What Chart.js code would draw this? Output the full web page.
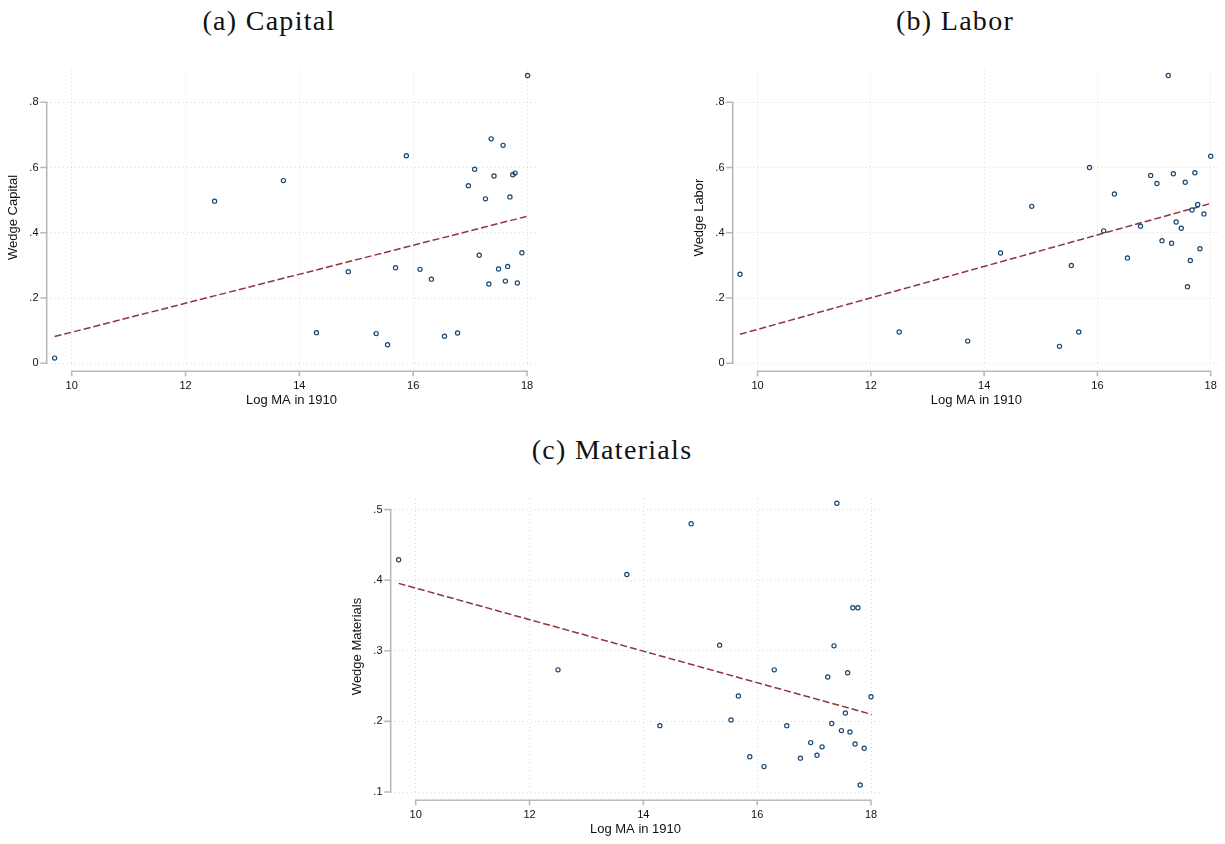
<!DOCTYPE html>
<html>
<head>
<meta charset="utf-8">
<script src="https://cdn.jsdelivr.net/npm/chart.js@4.4.1/dist/chart.umd.min.js"></script>
<style>
  html, body { margin: 0; padding: 0; background: #fff; overflow: hidden; }
  body { width: 1225px; height: 844px; position: relative; }
  canvas { position: absolute; }
  .ttl { position: absolute; width: 400px; text-align: center; font-family: "Liberation Serif", serif;
         font-size: 28px; line-height: 28px; letter-spacing: 1.3px; color: #111; white-space: nowrap; }
</style>
</head>
<body>
<div class="ttl" style="left:69px; top:7px;">(a) Capital</div>
<div class="ttl" style="left:755px; top:7px;">(b) Labor</div>
<div class="ttl" style="left:412px; top:436px;">(c) Materials</div>
<canvas id="cA" width="560" height="420" style="left:0px; top:0px;"></canvas>
<canvas id="cB" width="545" height="420" style="left:686px; top:0px;"></canvas>
<canvas id="cC" width="560" height="420" style="left:343.5px; top:428.7px;"></canvas>
<script>
// ---------- data ----------
const xTicks = [10, 12, 14, 16, 18];
const xTickLabels = ['10', '12', '14', '16', '18'];
const xTitle = 'Log MA in 1910';

// (a) Capital
const capX = [9.70, 12.51, 13.72, 14.30, 14.86, 15.35, 15.55, 15.69, 15.88, 16.12,
              16.32, 16.55, 16.78, 16.97, 17.08, 17.16, 17.27, 17.33, 17.37, 17.42,
              17.50, 17.58, 17.62, 17.66, 17.70, 17.75, 17.79, 17.83, 17.91, 18.01];
const capY = [0.016, 0.497, 0.560, 0.094, 0.281, 0.091, 0.057, 0.293, 0.636, 0.288,
              0.258, 0.083, 0.093, 0.544, 0.595, 0.331, 0.504, 0.243, 0.688, 0.574,
              0.289, 0.668, 0.252, 0.297, 0.510, 0.578, 0.583, 0.246, 0.339, 0.882];
const capFitX = [9.70, 18.01];
const capFitY = [0.082, 0.451];
const capYTicks = [0, 0.2, 0.4, 0.6, 0.8];
const capYTickLabels = ['0', '.2', '.4', '.6', '.8'];

// (b) Labor
const labX = [9.69, 12.50, 13.71, 14.29, 14.84, 15.33, 15.54, 15.67, 15.86, 16.11,
              16.30, 16.53, 16.76, 16.94, 17.05, 17.14, 17.25, 17.31, 17.34, 17.39,
              17.48, 17.55, 17.59, 17.64, 17.67, 17.72, 17.77, 17.81, 17.88, 18.00];
const labY = [0.273, 0.096, 0.068, 0.338, 0.481, 0.052, 0.300, 0.096, 0.600, 0.406,
              0.519, 0.323, 0.420, 0.576, 0.551, 0.376, 0.882, 0.368, 0.581, 0.433,
              0.414, 0.555, 0.235, 0.315, 0.470, 0.584, 0.487, 0.351, 0.458, 0.635];
const labFitX = [9.69, 18.00];
const labFitY = [0.089, 0.490];
const labYTicks = [0, 0.2, 0.4, 0.6, 0.8];
const labYTickLabels = ['0', '.2', '.4', '.6', '.8'];

// (c) Materials
const matX = [9.70, 12.50, 13.71, 14.29, 14.84, 15.34, 15.54, 15.67, 15.87, 16.12,
              16.30, 16.52, 16.76, 16.94, 17.05, 17.14, 17.24, 17.31, 17.35, 17.40,
              17.48, 17.55, 17.59, 17.63, 17.68, 17.72, 17.77, 17.81, 17.88, 18.00];
const matY = [0.429, 0.273, 0.408, 0.194, 0.480, 0.308, 0.202, 0.236, 0.150, 0.136,
              0.273, 0.194, 0.148, 0.170, 0.152, 0.164, 0.263, 0.197, 0.307, 0.509,
              0.187, 0.212, 0.269, 0.185, 0.361, 0.168, 0.361, 0.110, 0.162, 0.235];
const matFitX = [9.70, 18.01];
const matFitY = [0.3955, 0.210];
const matYTicks = [0.1, 0.2, 0.3, 0.4, 0.5];
const matYTickLabels = ['.1', '.2', '.3', '.4', '.5'];

// ---------- styling ----------
const MARKER = 'rgb(26,71,111)';
const FITCOL = 'rgb(144,53,59)';
const AXISCOL = '#b9b9b9';
const GRIDCOL = '#dadada';
const SANS = '"Liberation Sans", Arial, sans-serif';

const stataAxes = {
  id: 'stataAxes',
  afterDraw(chart) {
    const { ctx, chartArea, scales } = chart;
    const xs = scales.x, ys = scales.y;
    ctx.save();
    ctx.strokeStyle = AXISCOL;
    ctx.lineWidth = 1.6;
    ctx.setLineDash([]);
    // y axis
    const ax = chartArea.left - 0.3;
    const yv = ys.ticks.map(t => ys.getPixelForValue(t.value));
    ctx.beginPath();
    ctx.moveTo(ax, Math.max(...yv) + 0.8);
    ctx.lineTo(ax, Math.min(...yv) - 0.8);
    yv.forEach(py => { ctx.moveTo(ax, py); ctx.lineTo(ax - 6.5, py); });
    ctx.stroke();
    // x axis
    const ay = chartArea.bottom + 6.3;
    const xv = xs.ticks.map(t => xs.getPixelForValue(t.value));
    ctx.beginPath();
    ctx.moveTo(Math.min(...xv) - 0.8, ay);
    ctx.lineTo(Math.max(...xv) + 0.8, ay);
    xv.forEach(px => { ctx.moveTo(px, ay); ctx.lineTo(px, ay + 5); });
    ctx.stroke();
    ctx.restore();
  }
};

function makeChart(id, canvasW, xsArr, ysArr, fitX, fitY, yMin, yMax, yTicks, yTickLabels, yTitle) {
  const pts = xsArr.map((v, i) => ({ x: v, y: ysArr[i] }));
  const fit = fitX.map((v, i) => ({ x: v, y: fitY[i] }));
  const PLOT_RIGHT = 536;
  return new Chart(document.getElementById(id), {
    type: 'scatter',
    data: {
      datasets: [
        {
          data: pts,
          showLine: false,
          pointStyle: 'circle',
          pointRadius: 2.1,
          pointHoverRadius: 2.1,
          pointBorderWidth: 1.2,
          pointBorderColor: MARKER,
          pointBackgroundColor: 'rgba(255,255,255,0)'
        },
        {
          data: fit,
          showLine: true,
          pointRadius: 0,
          borderColor: FITCOL,
          borderWidth: 1.5,
          borderDash: [7, 3],
          fill: false
        }
      ]
    },
    options: {
      responsive: false,
      animation: false,
      devicePixelRatio: 1,
      events: [],
      layout: { padding: { left: 0, top: 70, right: canvasW - PLOT_RIGHT, bottom: 0 } },
      plugins: { legend: { display: false }, tooltip: { enabled: false }, title: { display: false } },
      scales: {
        x: {
          type: 'linear',
          min: 9.566,
          max: 18.158,
          afterFit: s => { s.height = 55; },
          afterBuildTicks: s => { s.ticks = xTicks.map(v => ({ value: v })); },
          grid: { color: GRIDCOL, lineWidth: 1, drawTicks: false },
          border: { display: false, dash: [1, 3] },
          ticks: {
            autoSkip: false, maxRotation: 0, padding: 14,
            color: '#111', font: { family: SANS, size: 11 },
            callback: (v, i) => xTickLabels[i]
          },
          title: {
            display: true, text: xTitle, color: '#111',
            font: { family: SANS, size: 13 },
            padding: { top: 0, bottom: 11.6 }
          }
        },
        y: {
          type: 'linear',
          min: yMin,
          max: yMax,
          afterFit: s => { s.width = 47; },
          afterBuildTicks: s => { s.ticks = yTicks.map(v => ({ value: v })); },
          grid: { color: GRIDCOL, lineWidth: 1, drawTicks: false },
          border: { display: false, dash: [1, 3] },
          ticks: {
            autoSkip: false, padding: 8.5,
            color: '#111', font: { family: SANS, size: 11 },
            callback: (v, i) => yTickLabels[i]
          },
          title: {
            display: true, text: yTitle, color: '#111',
            font: { family: SANS, size: 13 },
            padding: { top: 6, bottom: 0 }
          }
        }
      }
    },
    plugins: [stataAxes]
  });
}

makeChart('cA', 560, capX, capY, capFitX, capFitY, -0.0052, 0.899, capYTicks, capYTickLabels, 'Wedge Capital');
makeChart('cB', 545, labX, labY, labFitX, labFitY, -0.0052, 0.899, labYTicks, labYTickLabels, 'Wedge Labor');
makeChart('cC', 560, matX, matY, matFitX, matFitY, 0.0972, 0.515, matYTicks, matYTickLabels, 'Wedge Materials');
</script>
</body>
</html>
